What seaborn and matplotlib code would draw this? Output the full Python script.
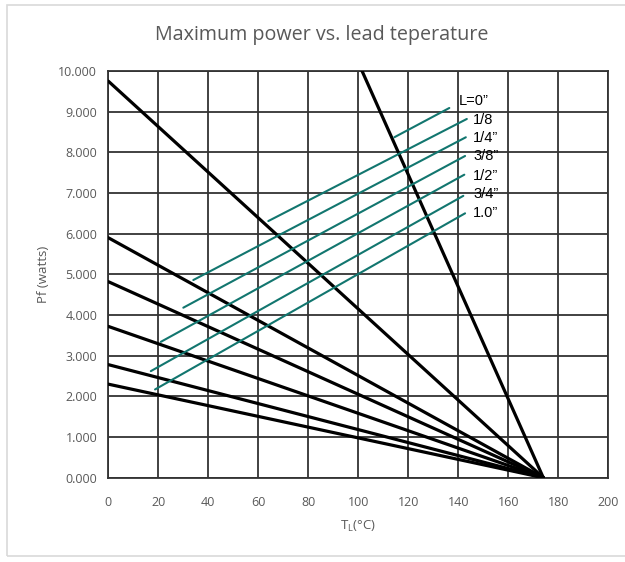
import pandas as pd
import seaborn as sns
import matplotlib.pyplot as plt
from matplotlib.patches import Rectangle

# Dati
zero_temp = 174
intercepts = [24.0, 9.75, 5.9, 4.82, 3.72, 2.78, 2.3]

lead_labels = ['L=0”', '1/8', '1/4”', '3/8”', '1/2”', '3/4”', '1.0”']
teal_x0 = [114.4, 64.0, 34.0, 30.0, 21.0, 17.0, 18.7]
teal_y0 = [8.37, 6.31, 4.86, 4.18, 3.34, 2.62, 2.17]
teal_x1 = [136.4, 143.4, 143.0, 142.7, 142.4, 142.0, 142.7]
teal_y1 = [9.09, 8.82, 8.37, 7.91, 7.45, 6.93, 6.50]
label_x = [140.3, 146.0, 146.0, 146.0, 146.0, 146.0, 146.0]
label_y = [9.25, 8.80, 8.35, 7.90, 7.43, 6.98, 6.50]

x_ticks = list(range(0, 201, 20))
y_ticks = list(range(0, 11))

# Tabella lunga per le rette nere
rows = []
for i, b in enumerate(intercepts):
    rows.append({'line': i, 'T': 0, 'Pf': b})
    rows.append({'line': i, 'T': zero_temp, 'Pf': 0})
df = pd.DataFrame(rows)

teal = pd.DataFrame({'lead': lead_labels * 2,
                     'T': teal_x0 + teal_x1,
                     'Pf': teal_y0 + teal_y1})

sns.set_style('white')
plt.rcParams['font.family'] = ['Open Sans', 'DejaVu Sans']

fig = plt.figure(figsize=(6.25, 5.62), dpi=100)
ax = fig.add_axes([0.1733, 0.15, 0.8, 0.7237])

# cornice grigia del riquadro
fig.patches.append(Rectangle((7 / 625, 1 - 556 / 562), 640 / 625, 551 / 562,
                             transform=fig.transFigure, fill=False,
                             edgecolor='#d9d9d9', lw=1.2))

sns.lineplot(data=df, x='T', y='Pf', units='line', estimator=None,
             color='black', lw=2.3, ax=ax, zorder=3)
sns.lineplot(data=teal, x='T', y='Pf', units='lead', estimator=None,
             color='#12766f', lw=1.5, ax=ax, zorder=4)

for lab, lx, ly in zip(lead_labels, label_x, label_y):
    ax.text(lx, ly, lab, fontsize=10.5, va='center', ha='left',
            family=['Liberation Sans', 'DejaVu Sans'], color='black', zorder=5)

ax.set_xlim(0, 200)
ax.set_ylim(0, 10)
ax.set_xticks(x_ticks)
ax.set_yticks(y_ticks)
ax.set_yticklabels([f'{v:.3f}' for v in y_ticks])
ax.grid(True, color='#333333', lw=1.3)
ax.set_axisbelow(True)
for s in ax.spines.values():
    s.set_color('#333333')
    s.set_linewidth(1.3)
ax.tick_params(length=0, labelsize=9, labelcolor='#595959')
ax.tick_params(axis='x', pad=13)
ax.tick_params(axis='y', pad=8)

ax.set_xlabel(r'T$_\mathregular{L}$(°C)', fontsize=9.5, color='#595959', labelpad=7)
ax.set_ylabel('Pf (watts)', fontsize=9.5, color='#595959', labelpad=6)
fig.text(0.515, 1 - 35 / 562, 'Maximum power vs. lead teperature',
         ha='center', va='center', fontsize=14.2, color='#595959')

plt.savefig('out.png', dpi=100)
